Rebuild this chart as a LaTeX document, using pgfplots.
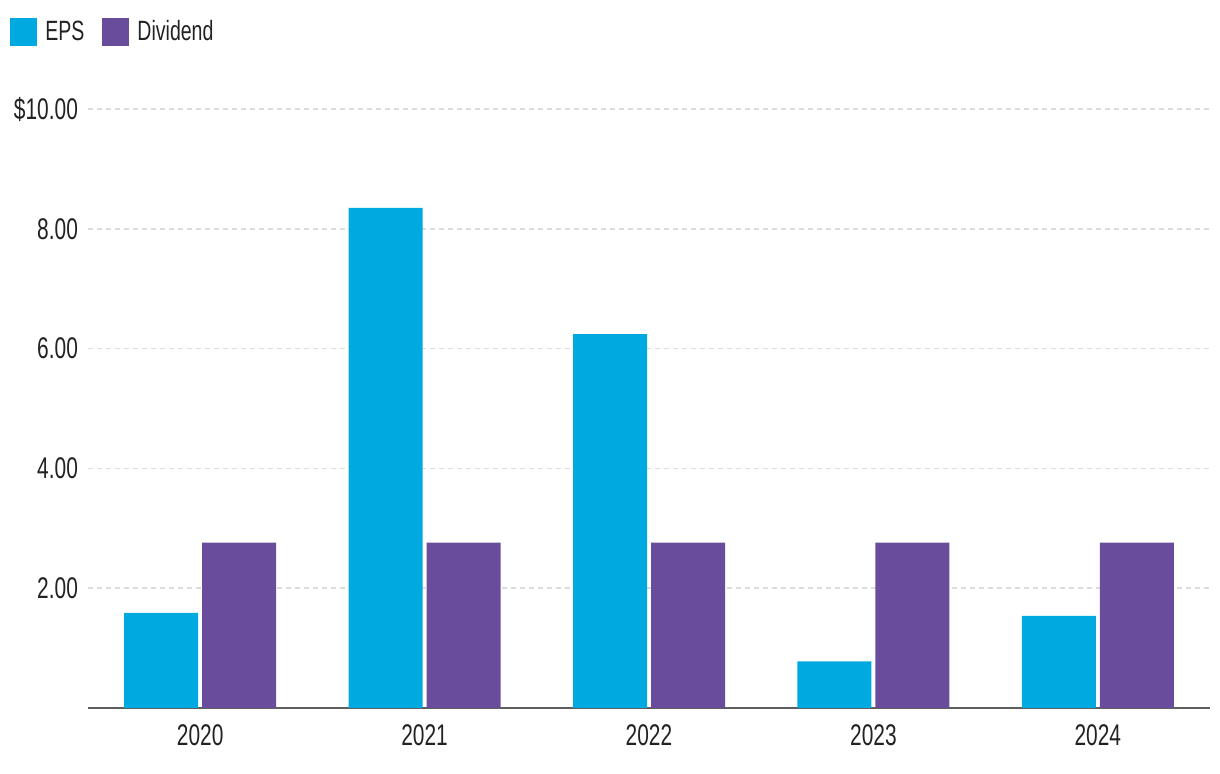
\documentclass[border=0pt]{standalone}
\usepackage{fontspec}
\setmainfont{Liberation Sans}[FakeStretch=0.7]
\usepackage{pgfplots}
\pgfplotsset{compat=1.18}
\definecolor{eps}{RGB}{0,169,224}
\definecolor{div}{RGB}{106,76,156}
\definecolor{gridc}{RGB}{220,220,220}
\definecolor{axisc}{RGB}{95,95,95}
\definecolor{txt}{RGB}{34,34,34}
\begin{document}
\begin{tikzpicture}
\path[use as bounding box] (-44bp,-33bp) rectangle (566bp,354bp);
\begin{axis}[
  at={(0,0)}, anchor=south west,
  scale only axis,
  width=561bp, height=299.5bp,
  xmin=-0.5, xmax=4.5, ymin=0, ymax=10,
  ybar=2bp, bar width=37bp,
  xtick=data,
  xticklabels={2020,2021,2022,2023,2024},
  ytick={2,4,6,8,10},
  yticklabels={2.00,4.00,6.00,8.00,\$10.00},
  major tick length=0pt,
  axis x line*=bottom, axis y line*=left,
  x axis line style={draw=axisc, line width=1bp, -},
  y axis line style={draw=none},
  ymajorgrids,
  major grid style={draw=gridc, line width=0.8bp, dash pattern=on 2.5bp off 2bp},
  tick label style={font=\fontsize{15}{18}\selectfont, text=txt},
  xticklabel style={yshift=-5bp},
  yticklabel style={xshift=-1.5bp},
  /pgf/number format/assume math mode=true,
  legend columns=2,
  legend style={at={(-0.0695,1.152)}, anchor=north west, draw=none, fill=none,
    inner sep=0pt, font=\fontsize{14}{17}\selectfont, text=txt,
    /tikz/every even column/.append style={column sep=5bp},
    nodes={inner xsep=4bp, inner ysep=0pt}},
  legend image code/.code={\fill[#1, draw=none] (0bp,-6.9bp) rectangle (13.5bp,6.9bp);},
]
\addplot[fill=eps, draw=none] coordinates {(0,1.59) (1,8.35) (2,6.24) (3,0.78) (4,1.54)};
\addplot[fill=div, draw=none] coordinates {(0,2.76) (1,2.76) (2,2.76) (3,2.76) (4,2.76)};
\legend{EPS,Dividend}
\end{axis}
\end{tikzpicture}
\end{document}
